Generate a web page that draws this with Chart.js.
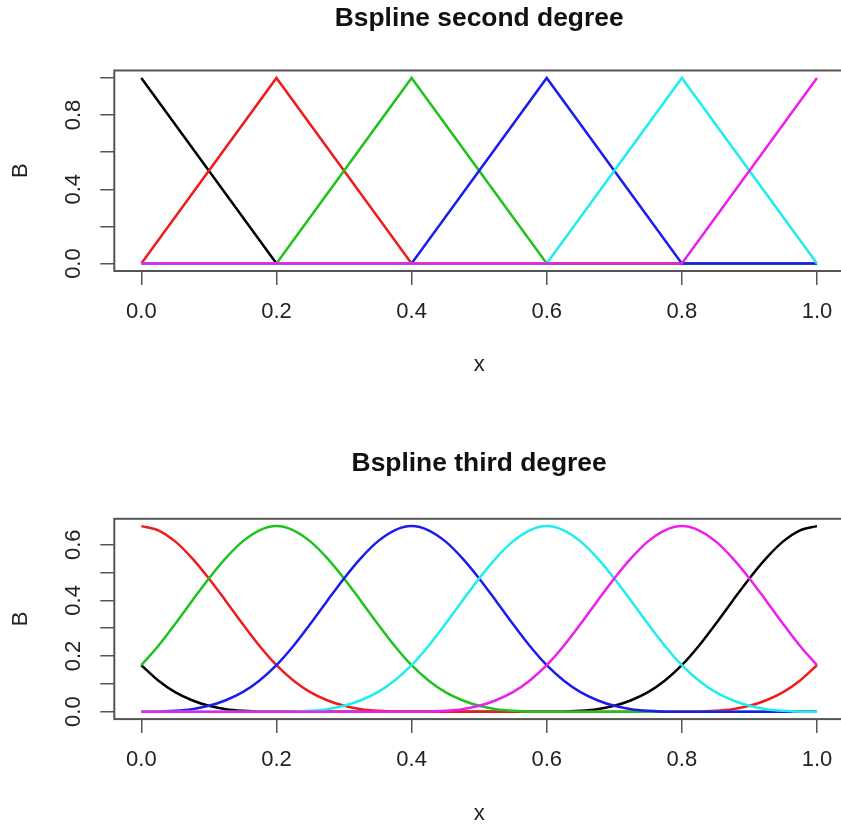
<!DOCTYPE html>
<html>
<head>
<meta charset="utf-8">
<script src="https://cdn.jsdelivr.net/npm/chart.js@4.4.1/dist/chart.umd.min.js"></script>
<style>
  body { margin: 0; background: #fff; overflow: hidden; }
  canvas { display: block; }
</style>
</head>
<body>
<canvas id="top" width="848" height="415"></canvas>
<canvas id="bottom" width="848" height="416"></canvas>
<script>
// 데이터
const seriesColors = ['#000000', '#EE1C1C', '#1EC31E', '#1C1CEE', '#1EEEEE', '#EE1EEE']

// 위: 꺾은선 기저 - 매듭 위치에서의 값
const xKnots = [0, 0.2, 0.4, 0.6, 0.8, 1.0]
const topBlack = [1, 0, 0, 0, 0, 0]
const topRed = [0, 1, 0, 0, 0, 0]
const topGreen = [0, 0, 1, 0, 0, 0]
const topBlue = [0, 0, 0, 1, 0, 0]
const topCyan = [0, 0, 0, 0, 1, 0]
const topMagenta = [0, 0, 0, 0, 0, 1]

// 아래: 3차 기저 - 0.025 간격으로 읽음
const xGrid = [0, 0.025, 0.05, 0.075, 0.1, 0.125, 0.15, 0.175, 0.2, 0.225, 0.25, 0.275, 0.3, 0.325, 0.35, 0.375, 0.4, 0.425, 0.45, 0.475, 0.5,
  0.525, 0.55, 0.575, 0.6, 0.625, 0.65, 0.675, 0.7, 0.725, 0.75, 0.775, 0.8, 0.825, 0.85, 0.875, 0.9, 0.925, 0.95, 0.975, 1.0]
const botBlack = [0.167, 0.112, 0.070, 0.041, 0.021, 0.009, 0.003, 0, 0, 0, 0, 0, 0, 0, 0, 0, 0, 0, 0, 0, 0,
  0, 0, 0, 0, 0, 0.003, 0.009, 0.021, 0.041, 0.070, 0.112, 0.167, 0.236, 0.315, 0.398, 0.479, 0.552, 0.612, 0.652, 0.667]
const botRed = [0.667, 0.652, 0.612, 0.552, 0.479, 0.398, 0.315, 0.236, 0.167, 0.112, 0.070, 0.041, 0.021, 0.009, 0.003, 0, 0, 0, 0, 0, 0,
  0, 0, 0, 0, 0, 0, 0, 0, 0, 0, 0, 0, 0, 0.003, 0.009, 0.021, 0.041, 0.070, 0.112, 0.167]
const botGreen = [0.167, 0.236, 0.315, 0.398, 0.479, 0.552, 0.612, 0.652, 0.667, 0.652, 0.612, 0.552, 0.479, 0.398, 0.315, 0.236, 0.167, 0.112, 0.070, 0.041, 0.021,
  0.009, 0.003, 0, 0, 0, 0, 0, 0, 0, 0, 0, 0, 0, 0, 0, 0, 0, 0, 0, 0]
const botBlue = [0, 0, 0.003, 0.009, 0.021, 0.041, 0.070, 0.112, 0.167, 0.236, 0.315, 0.398, 0.479, 0.552, 0.612, 0.652, 0.667, 0.652, 0.612, 0.552, 0.479,
  0.398, 0.315, 0.236, 0.167, 0.112, 0.070, 0.041, 0.021, 0.009, 0.003, 0, 0, 0, 0, 0, 0, 0, 0, 0, 0]
const botCyan = [0, 0, 0, 0, 0, 0, 0, 0, 0, 0, 0.003, 0.009, 0.021, 0.041, 0.070, 0.112, 0.167, 0.236, 0.315, 0.398, 0.479,
  0.552, 0.612, 0.652, 0.667, 0.652, 0.612, 0.552, 0.479, 0.398, 0.315, 0.236, 0.167, 0.112, 0.070, 0.041, 0.021, 0.009, 0.003, 0, 0]
const botMagenta = [0, 0, 0, 0, 0, 0, 0, 0, 0, 0, 0, 0, 0, 0, 0, 0, 0, 0, 0.003, 0.009, 0.021,
  0.041, 0.070, 0.112, 0.167, 0.236, 0.315, 0.398, 0.479, 0.552, 0.612, 0.652, 0.667, 0.652, 0.612, 0.552, 0.479, 0.398, 0.315, 0.236, 0.167]

// 눈금
const xTicks = [0, 0.2, 0.4, 0.6, 0.8, 1.0]
const xTickLabels = ['0.0', '0.2', '0.4', '0.6', '0.8', '1.0']
const yTicksTop = [0, 0.2, 0.4, 0.6, 0.8, 1.0]
const yTickLabelsTop = ['0.0', '', '0.4', '', '0.8', '']
const yTicksBot = [0, 0.1, 0.2, 0.3, 0.4, 0.5, 0.6]
const yTickLabelsBot = ['0.0', '', '0.2', '', '0.4', '', '0.6']

const FONT = 'Liberation Sans, Arial, Helvetica, sans-serif'

// 플롯 둘레 상자
const boxPlugin = {
  id: 'box',
  afterDraw(chart) {
    const { ctx, chartArea: a } = chart
    ctx.save()
    ctx.strokeStyle = '#555'
    ctx.lineWidth = 2
    ctx.strokeRect(a.left, a.top, a.right - a.left, a.bottom - a.top)
    ctx.restore()
  }
}

function makeSets(xs, list, smooth) {
  return list.map((ys, i) => ({
    data: ys.map((y, j) => ({ x: xs[j], y: y })),
    borderColor: seriesColors[i],
    borderWidth: 2.5,
    pointRadius: 0,
    cubicInterpolationMode: smooth ? 'monotone' : 'default',
    tension: 0,
    order: list.length - i
  }))
}

function makeChart(el, opt) {
  return new Chart(document.getElementById(el), {
    type: 'line',
    data: { datasets: makeSets(opt.xs, opt.series, opt.smooth) },
    plugins: [boxPlugin],
    options: {
      responsive: false,
      animation: false,
      layout: { padding: { left: 0, right: 4, top: 0, bottom: 0 } },
      plugins: {
        legend: { display: false },
        tooltip: { enabled: false },
        title: {
          display: true,
          fullSize: false, // 제목을 플롯 영역 위 가운데에
          text: opt.title,
          color: '#111',
          font: { family: FONT, size: 26.4, weight: 'bold' },
          padding: opt.titlePad
        }
      },
      scales: {
        x: {
          type: 'linear',
          min: -0.04,
          max: 1.04,
          afterBuildTicks: s => { s.ticks = xTicks.map(v => ({ value: v })) },
          afterFit: s => { s.height = opt.xHeight },
          ticks: {
            autoSkip: false,
            maxRotation: 0,
            padding: 14,
            color: '#222',
            font: { family: FONT, size: 22 },
            callback: (v, i) => xTickLabels[i]
          },
          grid: { drawOnChartArea: false, drawTicks: true, tickLength: 14, color: '#555', lineWidth: 1.5 },
          border: { display: false },
          title: { display: true, text: 'x', color: '#222', font: { family: FONT, size: 22 }, padding: { top: 0, bottom: opt.xTitlePad } }
        },
        y: {
          type: 'linear',
          min: opt.yMin,
          max: opt.yMax,
          afterBuildTicks: s => { s.ticks = opt.yTicks.map(v => ({ value: v })) },
          afterFit: s => { s.width = 114.3 },
          ticks: {
            autoSkip: false,
            minRotation: 90,
            maxRotation: 90,
            crossAlign: 'center',
            padding: 11.5,
            color: '#222',
            font: { family: FONT, size: 22 },
            callback: (v, i) => opt.yLabels[i]
          },
          grid: { drawOnChartArea: false, drawTicks: true, tickLength: 14, color: '#555', lineWidth: 1.5 },
          border: { display: false },
          title: { display: true, text: 'B', color: '#222', font: { family: FONT, size: 22 }, padding: { top: 7.5, bottom: 0 } }
        }
      }
    }
  })
}

// 위 차트
makeChart('top', {
  title: 'Bspline second degree',
  titlePad: { top: 2.5, bottom: 36.3 },
  xs: xKnots,
  series: [topBlack, topRed, topGreen, topBlue, topCyan, topMagenta],
  smooth: false,
  xHeight: 144,
  xTitlePad: 36.4,
  yMin: -0.04,
  yMax: 1.04,
  yTicks: yTicksTop,
  yLabels: yTickLabelsTop
})

// 아래 차트
makeChart('bottom', {
  title: 'Bspline third degree',
  titlePad: { top: 33, bottom: 39.1 },
  xs: xGrid,
  series: [botBlack, botRed, botGreen, botBlue, botCyan, botMagenta],
  smooth: true,
  xHeight: 111.9,
  xTitlePad: 4.3,
  yMin: -0.0267,
  yMax: 0.6933,
  yTicks: yTicksBot,
  yLabels: yTickLabelsBot
})
</script>
</body>
</html>
